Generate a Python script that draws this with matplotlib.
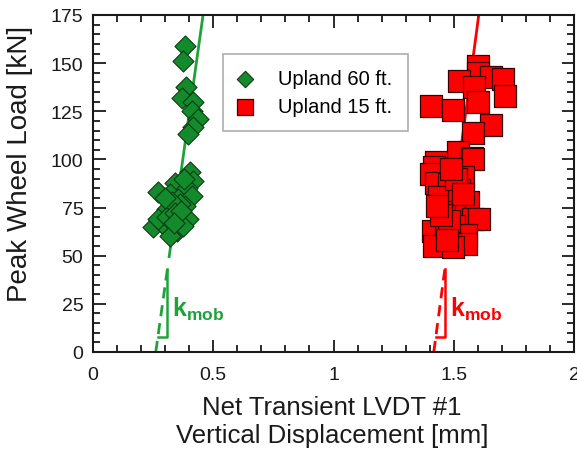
import matplotlib
matplotlib.use("Agg")
import matplotlib.pyplot as plt
from matplotlib.ticker import MultipleLocator
import numpy as np

plt.rcParams['font.family'] = ['Liberation Sans', 'DejaVu Sans']
plt.rcParams['mathtext.fontset'] = 'custom'
plt.rcParams['mathtext.rm'] = 'Liberation Sans'
plt.rcParams['mathtext.bf'] = 'Liberation Sans:bold'

# ---- data ----
green_x = [0.383, 0.375, 0.388, 0.371, 0.417, 0.412, 0.4375, 0.417, 0.396,
           0.404, 0.417, 0.342, 0.271, 0.321, 0.392, 0.354, 0.412, 0.308,
           0.383, 0.342, 0.396, 0.250, 0.292, 0.3125, 0.350, 0.375, 0.321,
           0.270, 0.308, 0.360, 0.330, 0.340, 0.365, 0.300, 0.380, 0.335]
green_y = [159, 151, 137.6, 132, 130, 125, 121, 117, 113,
           93.5, 89, 88, 83, 82, 85, 79.5, 81, 74,
           76, 70.6, 69, 65, 66.5, 64, 63, 65.5, 60,
           69, 70, 77, 78, 72, 73, 80, 90, 67]

red_x = [1.600, 1.600, 1.654, 1.704, 1.521, 1.583, 1.7125, 1.600, 1.404,
         1.496, 1.654, 1.579, 1.517, 1.575, 1.425, 1.579, 1.417, 1.5375,
         1.404, 1.425, 1.479, 1.4375, 1.558, 1.500, 1.579, 1.604, 1.4125,
         1.467, 1.500, 1.550, 1.417, 1.550, 1.496, 1.460, 1.520, 1.480,
         1.445, 1.510, 1.470, 1.540, 1.430, 1.490]
red_y = [148.5, 145, 143, 141.7, 140.7, 137.6, 133, 130, 127.7,
         125.6, 117.9, 113.7, 103.8, 101, 98.6, 100, 96, 91,
         92.4, 88, 87, 80.5, 78, 72.7, 69, 69, 62.8,
         62.8, 65.4, 61, 55, 56, 54.5, 75, 84, 68,
         71, 90, 58, 82, 76, 95]

# linear fits: x = x0 + load / k
green_x0, green_k = 0.261, 890.0
red_x0, red_k = 1.417, 936.0

xticks = [0, 0.5, 1, 1.5, 2]
xticklabels = ['0', '0.5', '1', '1.5', '2']
yticks = [0, 25, 50, 75, 100, 125, 150, 175]

GREEN_FILL = '#138a2c'
GREEN_LINE = '#1ea33a'
RED = '#ff0000'
TXT = '#1a1a1a'

W, H = 577, 456
fig = plt.figure(figsize=(W / 100, H / 100), dpi=100)
ax = fig.add_axes([93 / W, (H - 353) / H, (574 - 93) / W, (353 - 16) / H])

def draw_fit(x0, k, color):
    ys = np.array([49.5, 185.0])
    ax.plot(x0 + ys / k, ys, color=color, lw=2, zorder=2)
    yd = np.array([0.0, 43.0])
    ax.plot(x0 + yd / k, yd, color=color, lw=2, ls=(0, (4, 2.5)), zorder=2)
    xt = x0 + 43.0 / k
    xb = x0 + 8.0 / k
    ax.plot([xt, xt, xb], [43.0, 8.0, 8.0], color=color, lw=1.8, zorder=2)
    ax.text(xt + 0.02, 19, r'$\mathbf{k}_{\mathbf{mob}}$', color=color,
            fontsize=18, ha='left', va='baseline')

draw_fit(green_x0, green_k, GREEN_LINE)
draw_fit(red_x0, red_k, RED)

ax.scatter(green_x, green_y, marker='D', s=115, c=GREEN_FILL,
           edgecolors='#0b3d12', linewidths=0.8, zorder=3, label='Upland 60 ft.')
ax.scatter(red_x, red_y, marker='s', s=240, c=RED,
           edgecolors='#3a0000', linewidths=0.9, zorder=3, label='Upland 15 ft.')

ax.set_xlim(0, 2)
ax.set_ylim(0, 175)
ax.set_xticks(xticks)
ax.set_xticklabels(xticklabels)
ax.set_yticks(yticks)
ax.xaxis.set_minor_locator(MultipleLocator(0.1))
ax.yaxis.set_minor_locator(MultipleLocator(5))
ax.tick_params(which='both', direction='in', top=True, right=True,
               labelsize=14, colors=TXT, width=1.3)
ax.tick_params(which='major', length=9, pad=7)
ax.tick_params(axis='x', which='major', pad=10)
ax.tick_params(which='minor', length=5)
for sp in ax.spines.values():
    sp.set_linewidth(1.5)
    sp.set_color(TXT)

fig.text(332 / W, 1 - 422 / H, 'Net Transient LVDT #1\nVertical Displacement [mm]',
         fontsize=18.5, color=TXT, ha='center', va='center',
         multialignment='center', linespacing=1.25)
fig.text(20 / W, 1 - 164 / H, 'Peak Wheel Load [kN]', fontsize=20, color=TXT,
         ha='center', va='center', rotation=90)

leg = ax.legend(loc='upper left', bbox_to_anchor=((223 - 93) / 481, (353 - 55) / 337),
                borderaxespad=0, fontsize=14.5,
                frameon=True, fancybox=False, edgecolor='#999999',
                handlelength=0.7, handletextpad=1.3, borderpad=0.75,
                labelspacing=0.45, markerscale=0.78)
leg.get_frame().set_linewidth(1.2)

fig.savefig('out.png', dpi=100)
